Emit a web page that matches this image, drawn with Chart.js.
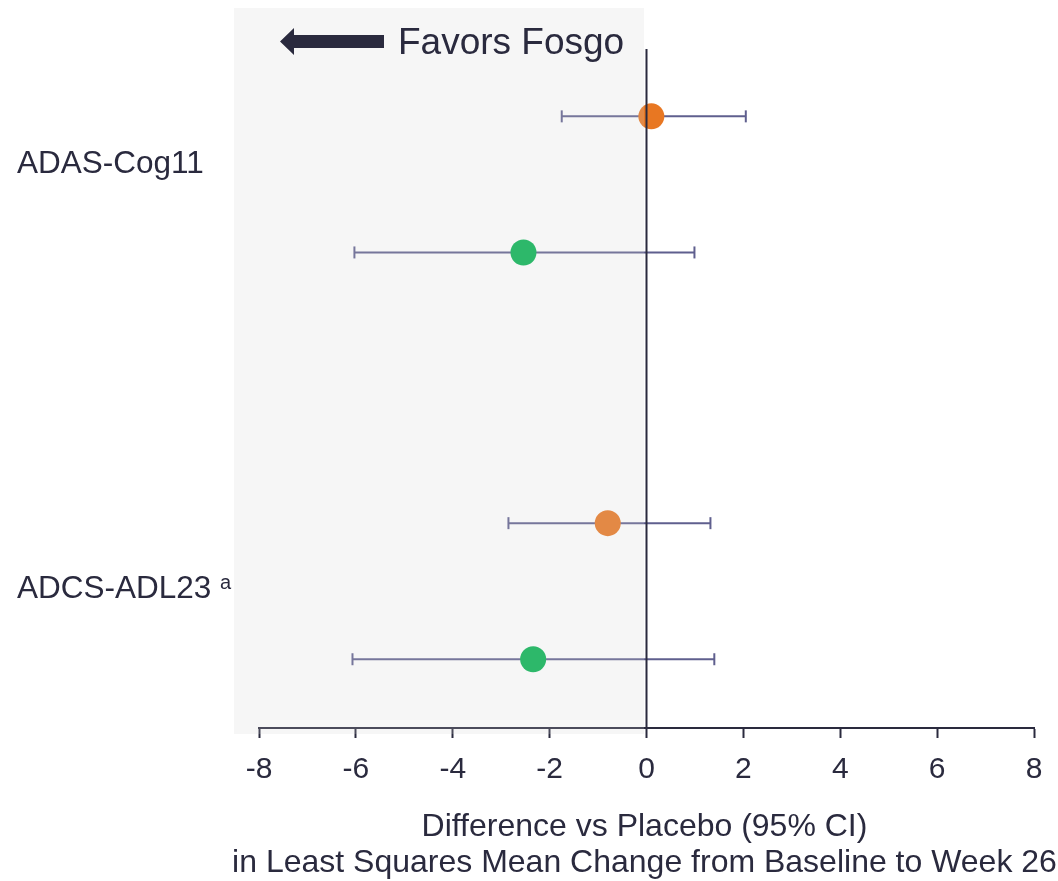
<!DOCTYPE html>
<html>
<head>
<meta charset="utf-8">
<script src="https://cdn.jsdelivr.net/npm/chart.js@4.4.1/dist/chart.umd.min.js"></script>
<style>
  html, body { margin: 0; padding: 0; background: #ffffff; }
</style>
</head>
<body>
<canvas id="forest" width="1058" height="881"></canvas>
<script>
// outcome measures, each one a group of two rows
const outcomes = ['ADAS-Cog11', 'ADCS-ADL23'];
const outcomeNotes = ['', 'a'];

// orange rows: estimate with 95% CI
const orangeEst = [0.1, -0.8];
const orangeLow = [-1.75, -2.85];
const orangeHigh = [2.05, 1.32];

// green rows: estimate with 95% CI
const greenEst = [-2.54, -2.34];
const greenLow = [-6.03, -6.07];
const greenHigh = [0.99, 1.4];

const xTicks = [-8, -6, -4, -2, 0, 2, 4, 6, 8];
const xTitle = ['Difference vs Placebo (95% CI)', 'in Least Squares Mean Change from Baseline to Week 26'];
const favorsText = 'Favors Fosgo';

// vertical layout on a hidden 0..100 axis (top to bottom)
const groupCenter = [24.5, 81];
const rowOffset = 9.45;
const labelY = [21.7, 80.8];
const zeroLineTop = 5.7;

const ink = '#2a2a3e';
const barColor = '#5f5f8e';
const orange = '#e87722';
const green = '#04b251';
const font = "'Liberation Sans', Arial, sans-serif";

// row positions: orange above, green below in each group
const orangeRow = groupCenter.map(c => c - rowOffset);
const greenRow = groupCenter.map(c => c + rowOffset);

// one line dataset per confidence interval, caps drawn as rotated 'line' points
function ciDataset(lo, hi, row) {
  return {
    type: 'line',
    data: [{ x: lo, y: row }, { x: hi, y: row }],
    borderColor: barColor,
    borderWidth: 2,
    pointStyle: 'line',
    rotation: 90,
    pointRadius: 6,
    pointHoverRadius: 6,
    pointBorderWidth: 2,
    pointBorderColor: barColor,
    fill: false,
    order: 2
  };
}

const datasets = [];
outcomes.forEach((_, i) => {
  datasets.push(ciDataset(orangeLow[i], orangeHigh[i], orangeRow[i]));
  datasets.push(ciDataset(greenLow[i], greenHigh[i], greenRow[i]));
});
datasets.push({
  type: 'scatter',
  data: outcomes.flatMap((_, i) => [
    { x: orangeEst[i], y: orangeRow[i] },
    { x: greenEst[i], y: greenRow[i] }
  ]),
  backgroundColor: outcomes.flatMap(() => [orange, green]),
  borderWidth: 0,
  pointRadius: 13,
  pointHoverRadius: 13,
  order: 1
});

const forestDecor = {
  id: 'forestDecor',
  afterDatasetsDraw(chart) {
    const { ctx, chartArea, scales: { x, y } } = chart;
    const zeroX = x.getPixelForValue(0);
    const shadeLeft = chartArea.left - 25;
    ctx.save();

    // shaded panel over the negative side
    ctx.fillStyle = 'rgba(211,211,211,0.2)';
    ctx.fillRect(shadeLeft, chartArea.top, zeroX - 2.5 - shadeLeft, chartArea.bottom + 6 - chartArea.top);

    // zero reference line
    ctx.strokeStyle = ink;
    ctx.lineWidth = 2;
    ctx.beginPath();
    ctx.moveTo(zeroX, y.getPixelForValue(zeroLineTop));
    ctx.lineTo(zeroX, chartArea.bottom);
    ctx.stroke();

    // arrow pointing left + caption
    const ay = chartArea.top + 33.5;
    const tip = chartArea.left + 21;
    ctx.fillStyle = ink;
    ctx.beginPath();
    ctx.moveTo(tip, ay);
    ctx.lineTo(tip + 14, ay - 13.5);
    ctx.lineTo(tip + 14, ay - 6.5);
    ctx.lineTo(tip + 104, ay - 6.5);
    ctx.lineTo(tip + 104, ay + 6.5);
    ctx.lineTo(tip + 14, ay + 6.5);
    ctx.lineTo(tip + 14, ay + 13.5);
    ctx.closePath();
    ctx.fill();

    ctx.font = '37px ' + font;
    ctx.textBaseline = 'alphabetic';
    ctx.textAlign = 'left';
    ctx.fillText(favorsText, chartArea.left + 139, chartArea.top + 46);

    // outcome labels on the left
    outcomes.forEach((name, i) => {
      const ly = y.getPixelForValue(labelY[i]);
      ctx.font = '31.5px ' + font;
      ctx.textBaseline = 'middle';
      ctx.fillText(name, 17, ly);
      if (outcomeNotes[i]) {
        const w = ctx.measureText(name + ' ').width;
        ctx.font = '20px ' + font;
        ctx.fillText(outcomeNotes[i], 17 + w, ly - 6);
      }
    });

    // two-line axis title, allowed to run wider than the plot area
    ctx.font = '32px ' + font;
    ctx.textAlign = 'center';
    ctx.textBaseline = 'middle';
    const cx = (chartArea.left + chartArea.right) / 2 - 2;
    xTitle.forEach((line, i) => {
      ctx.fillText(line, cx, chartArea.bottom + 99 + i * 36);
    });
    ctx.restore();
  }
};

new Chart(document.getElementById('forest'), {
  data: { datasets },
  options: {
    responsive: false,
    animation: false,
    layout: { autoPadding: false, padding: { left: 259, right: 24, top: 8, bottom: 79 } },
    plugins: { legend: { display: false }, tooltip: { enabled: false } },
    scales: {
      x: {
        type: 'linear',
        min: -8,
        max: 8,
        afterBuildTicks: scale => { scale.ticks = xTicks.map(v => ({ value: v })); },
        grid: { drawOnChartArea: false, drawTicks: true, tickLength: 10, tickColor: ink, tickWidth: 2 },
        border: { display: true, color: ink, width: 2 },
        ticks: { color: ink, padding: 14, font: { family: font, size: 30 } }
      },
      y: {
        type: 'linear',
        display: false,
        reverse: true,
        min: 0,
        max: 100
      }
    }
  },
  plugins: [forestDecor]
});
</script>
</body>
</html>
